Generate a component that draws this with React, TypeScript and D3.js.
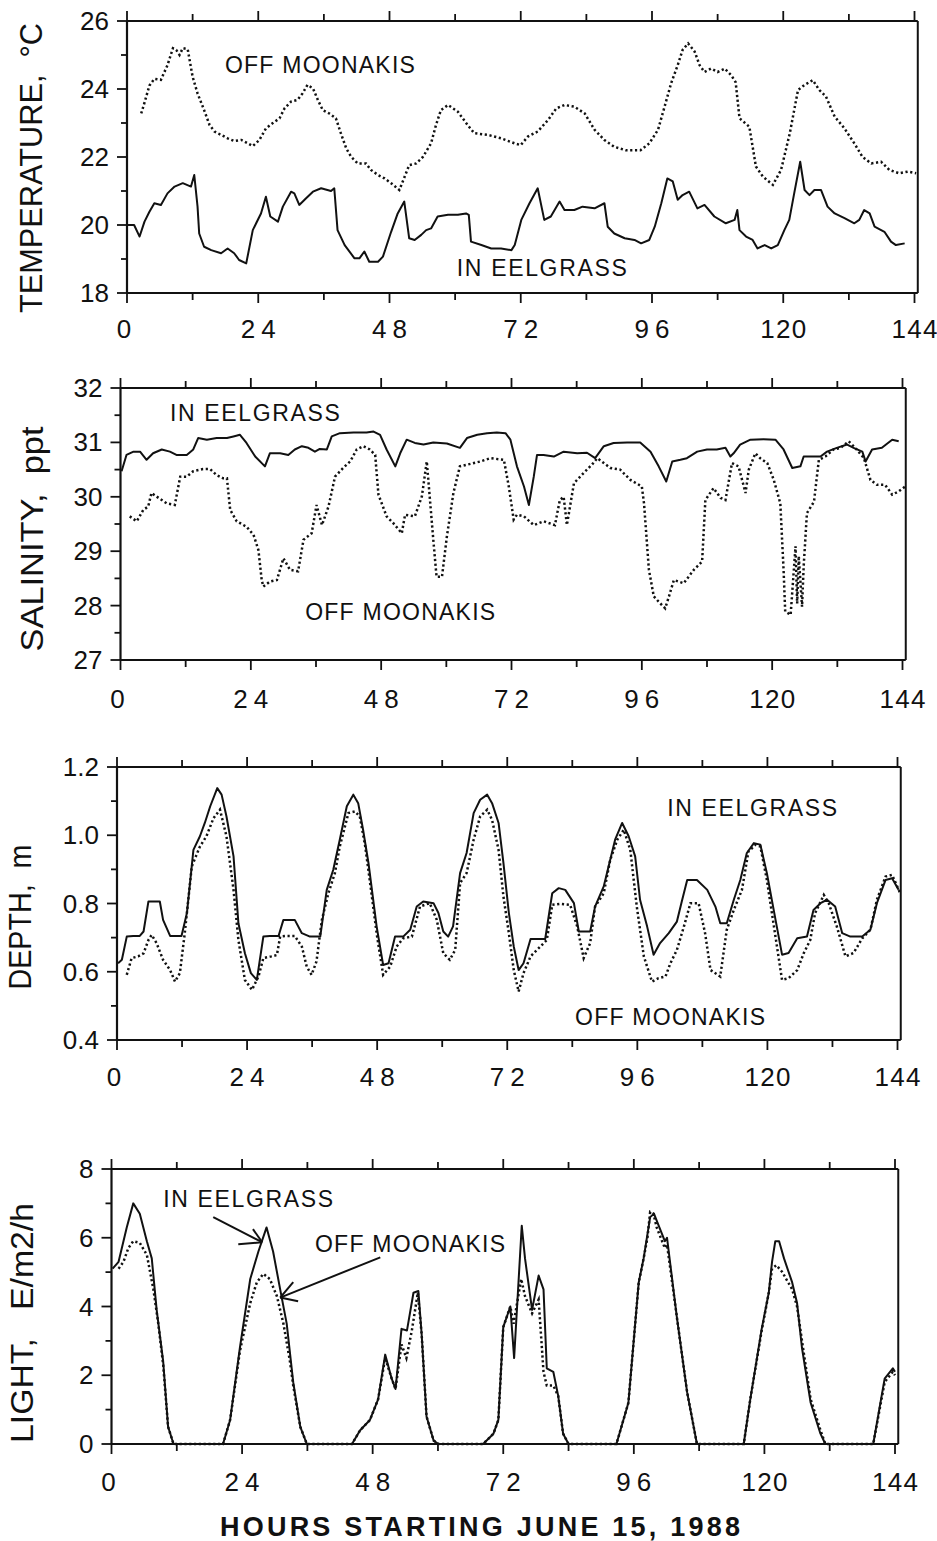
import React from "react";
import * as d3 from "d3";

// ---------- DATA (hours, value) ----------
const hourTicks = [0, 24, 48, 72, 96, 120, 144];

const tempEelgrass: [number, number][] = [
  [0, 20.0], [1.3, 20.0], [2.3, 19.66], [3.2, 20.1], [4.1, 20.39], [5, 20.64], [6.2, 20.59], [7.4, 20.93], [8.7, 21.13], [10.2, 21.23], [11.7, 21.13], [12.3, 21.47], [12.9, 20.54], [13.2, 19.75], [14.1, 19.36], [15.4, 19.26], [17.2, 19.17], [18.4, 19.31], [19.6, 19.17], [20.5, 18.97], [21.8, 18.87], [23, 19.85], [24.5, 20.34], [25.4, 20.83], [26.2, 20.25], [27.6, 20.1], [28.5, 20.54], [30, 20.98], [30.6, 20.93], [31.5, 20.59], [32.7, 20.78], [34, 20.98], [35.5, 21.08], [37.3, 21.0], [37.9, 21.08], [38.5, 19.85], [39.8, 19.41], [41.6, 19.02], [42.5, 19.02], [43.4, 19.22], [44.3, 18.92], [45.9, 18.92], [46.8, 19.07], [48.3, 19.8], [49.5, 20.34], [50.7, 20.69], [51.6, 19.61], [52.6, 19.56], [53.8, 19.71], [54.7, 19.85], [55.6, 19.9], [56.8, 20.25], [58.7, 20.3], [60.5, 20.3], [62, 20.34], [62.5, 20.3], [62.9, 19.51], [64.8, 19.41], [66.6, 19.31], [68.4, 19.31], [70.3, 19.26], [70.9, 19.41], [72.1, 20.15], [73.6, 20.64], [75.1, 21.08], [76.3, 20.15], [77.5, 20.25], [79.1, 20.69], [80, 20.44], [81.8, 20.44], [83.3, 20.54], [85.5, 20.49], [87.3, 20.64], [87.9, 19.95], [89.1, 19.75], [91, 19.61], [92.8, 19.56], [94, 19.46], [95.5, 19.56], [96.5, 19.95], [97.7, 20.64], [98.8, 21.37], [99.8, 21.28], [100.7, 20.74], [101.6, 20.88], [102.8, 20.98], [104.3, 20.49], [105.6, 20.59], [107.4, 20.25], [109.5, 20.05], [111.1, 20.15], [111.6, 20.44], [112, 19.85], [113.2, 19.66], [114.4, 19.56], [115.3, 19.31], [116.6, 19.41], [117.8, 19.31], [119, 19.41], [120.2, 19.85], [121.1, 20.15], [122, 20.93], [123.1, 21.86], [123.9, 21.03], [124.8, 20.88], [125.7, 21.03], [126.9, 21.03], [128.1, 20.54], [129.4, 20.34], [131.2, 20.2], [133, 20.05], [133.9, 20.15], [134.8, 20.44], [135.8, 20.34], [136.7, 19.95], [138.5, 19.8], [139.7, 19.51], [140.6, 19.41], [142.2, 19.46],
];

const tempMoonakis: [number, number][] = [
  [2.6, 23.28], [3.2, 23.6], [4.1, 24.1], [5, 24.3], [6.2, 24.27], [7.4, 24.7], [8.4, 25.2], [9, 25.15], [9.6, 25.0], [10.2, 25.2], [11.1, 25.17], [12, 24.36], [12.9, 23.87], [14.1, 23.38], [15.1, 22.94], [16, 22.75], [17.2, 22.65], [18.4, 22.55], [19.6, 22.47], [20.9, 22.5], [22.1, 22.4], [23, 22.32], [24.2, 22.5], [25.4, 22.84], [26.6, 22.99], [27.9, 23.14], [28.8, 23.43], [30, 23.63], [31.2, 23.68], [32.1, 23.87], [33, 24.12], [34, 24.02], [34.9, 23.68], [35.8, 23.38], [37, 23.28], [38.2, 23.14], [39.1, 22.7], [40.1, 22.25], [41, 22.0], [42.2, 21.81], [43.7, 21.81], [44.6, 21.62], [45.9, 21.47], [47.1, 21.37], [48.3, 21.23], [49.8, 21.03], [50.4, 21.27], [51.6, 21.76], [52.9, 21.81], [54.1, 22.0], [55.6, 22.4], [56.5, 22.94], [57.4, 23.38], [58.7, 23.53], [60.5, 23.33], [62.3, 22.94], [63.5, 22.7], [66, 22.65], [68.4, 22.55], [70.9, 22.4], [72, 22.35], [73.3, 22.6], [75.1, 22.75], [77, 23.09], [78.5, 23.43], [80, 23.53], [81.8, 23.48], [83.7, 23.28], [85.5, 22.8], [87.3, 22.5], [89.1, 22.3], [91.2, 22.2], [93.9, 22.2], [95.5, 22.4], [97.1, 22.8], [98.3, 23.48], [99.5, 24.17], [100.7, 24.7], [101.6, 25.15], [102.6, 25.34], [103.8, 25.1], [104.7, 24.7], [105.6, 24.5], [106.8, 24.6], [108, 24.5], [109.3, 24.6], [110.5, 24.4], [111.3, 24.2], [112, 23.14], [113.8, 22.89], [115, 21.72], [116.3, 21.42], [118.1, 21.18], [119.6, 21.62], [121.2, 22.7], [122.7, 23.97], [123.9, 24.12], [125.4, 24.26], [126.6, 23.97], [127.8, 23.78], [129.4, 23.19], [131.2, 22.84], [133, 22.4], [134.5, 22.0], [136.1, 21.81], [137.9, 21.86], [139.4, 21.62], [141.2, 21.52], [142.8, 21.57], [144.3, 21.52],
];

const salEelgrass: [number, number][] = [
  [0.2, 30.47], [1.1, 30.77], [2.4, 30.83], [3.6, 30.83], [4.8, 30.68], [6, 30.8], [7.6, 30.87], [9.1, 30.83], [10.3, 30.77], [12.2, 30.77], [13.4, 30.87], [14.3, 31.08], [15.9, 31.05], [17.7, 31.08], [19.6, 31.08], [20.8, 31.11], [22, 31.14], [23.2, 30.99], [24.8, 30.74], [26.6, 30.56], [27.5, 30.8], [29.4, 30.8], [30.9, 30.77], [32.1, 30.87], [33.4, 30.93], [34.6, 30.9], [35.8, 30.83], [36.7, 30.88], [38, 30.87], [38.9, 31.11], [40.4, 31.17], [42.9, 31.18], [45.3, 31.18], [46.6, 31.2], [47.8, 31.14], [49, 30.87], [50.6, 30.56], [51.5, 30.8], [52.7, 31.05], [54.2, 30.99], [55.8, 30.96], [57.6, 31.0], [60.1, 30.98], [62.5, 30.9], [63.8, 31.08], [65.7, 31.14], [67.5, 31.17], [69.3, 31.18], [70.9, 31.17], [71.8, 31.05], [73, 30.56], [74.3, 30.19], [75.2, 29.85], [76.1, 30.37], [76.7, 30.77], [77.9, 30.77], [79.8, 30.74], [81.6, 30.83], [84.1, 30.8], [85.9, 30.81], [87.4, 30.71], [89, 30.93], [90.8, 30.99], [93.3, 31.0], [95.7, 31.0], [97.6, 30.83], [99.1, 30.56], [100.5, 30.28], [101.6, 30.65], [103.1, 30.68], [104.3, 30.71], [106.2, 30.83], [108, 30.87], [109.8, 30.87], [111.4, 30.9], [112.3, 30.74], [112.9, 30.8], [114.1, 30.96], [116, 31.05], [118.4, 31.06], [120.6, 31.05], [122.1, 30.87], [123.7, 30.53], [125.2, 30.56], [125.8, 30.74], [127.7, 30.74], [128.9, 30.74], [130.1, 30.83], [131.9, 30.9], [133.8, 30.96], [135, 30.9], [136.6, 30.83], [137.2, 30.65], [138.4, 30.87], [140.2, 30.9], [142.1, 31.05], [143.3, 31.02],
];

const salMoonakis: [number, number][] = [
  [1.7, 29.64], [3, 29.55], [4.2, 29.76], [5.1, 29.82], [5.7, 30.07], [7, 29.98], [8.5, 29.88], [10, 29.85], [11, 30.37], [12.2, 30.37], [13.4, 30.47], [15.2, 30.51], [16.5, 30.51], [17.7, 30.4], [18.9, 30.34], [19.6, 30.34], [20.2, 29.76], [21.4, 29.55], [23.2, 29.45], [24.5, 29.3], [25.4, 29.02], [26, 28.47], [26.3, 28.35], [27.5, 28.44], [28.8, 28.47], [30, 28.87], [31.2, 28.66], [32.7, 28.63], [33.7, 29.21], [35.2, 29.33], [36.1, 29.85], [37.1, 29.48], [38.3, 29.82], [39.5, 30.37], [41, 30.53], [42.3, 30.65], [43.5, 30.87], [44.7, 30.93], [45.9, 30.87], [46.9, 30.77], [47.5, 30.04], [49, 29.64], [50.2, 29.52], [51.8, 29.33], [52.4, 29.67], [54.2, 29.64], [55.5, 30.01], [56.4, 30.65], [57.6, 29.21], [58.2, 28.53], [59.2, 28.53], [60.1, 29.27], [61.3, 30.07], [62.5, 30.56], [63.8, 30.59], [66.3, 30.65], [68.1, 30.71], [70.6, 30.68], [71.5, 30.19], [72.4, 29.58], [73, 29.67], [74.3, 29.64], [76.1, 29.48], [77.9, 29.55], [80, 29.48], [80.9, 29.94], [81.6, 30.0], [82.2, 29.48], [83.5, 30.25], [85.3, 30.44], [86.8, 30.59], [87.8, 30.71], [90.2, 30.53], [92, 30.5], [93.9, 30.31], [96, 30.19], [96.4, 29.88], [97.3, 28.66], [98.2, 28.17], [99.4, 28.04], [100.3, 27.95], [101, 28.17], [101.9, 28.47], [103.7, 28.41], [105.6, 28.66], [107.1, 28.81], [107.7, 29.94], [109.2, 30.16], [110.5, 29.98], [111.4, 29.94], [112.6, 30.62], [113.8, 30.56], [115.1, 30.07], [115.7, 30.5], [116.9, 30.8], [117.8, 30.71], [119.1, 30.62], [120.3, 30.31], [121.5, 29.88], [122.1, 28.66], [122.4, 27.89], [123.4, 27.83], [124.3, 29.09], [124.6, 28.04], [124.9, 28.91], [125.5, 27.98], [125.8, 28.72], [126.4, 29.7], [127.7, 29.91], [128.6, 30.68], [129.8, 30.74], [131.3, 30.87], [132.6, 30.9], [134.1, 31.02], [135.3, 30.9], [136.9, 30.71], [138.1, 30.31], [139.3, 30.22], [140.8, 30.22], [142.1, 30.04], [143.3, 30.1], [144.5, 30.19],
];

const depthEelgrass: [number, number][] = [
  [0.2, 0.625], [0.9, 0.635], [1.8, 0.703], [3, 0.705], [4.2, 0.705], [4.9, 0.718], [5.8, 0.806], [6.7, 0.806], [7.9, 0.806], [8.5, 0.752], [9.8, 0.705], [11, 0.705], [11.9, 0.705], [12.9, 0.772], [14.1, 0.957], [15.3, 0.997], [16.2, 1.036], [17.2, 1.085], [18.5, 1.138], [19.3, 1.119], [20.2, 1.055], [21.5, 0.938], [22.4, 0.742], [23.6, 0.654], [24.7, 0.596], [25.8, 0.576], [27, 0.703], [28.2, 0.705], [29.8, 0.705], [30.7, 0.752], [31.6, 0.752], [32.8, 0.752], [34.1, 0.713], [35.6, 0.703], [37.5, 0.703], [38.7, 0.84], [39.9, 0.899], [41.1, 0.987], [42.4, 1.085], [43.6, 1.119], [44.5, 1.094], [45.4, 1.016], [46.4, 0.918], [47.9, 0.733], [49.1, 0.62], [50.1, 0.625], [51.3, 0.703], [52.8, 0.703], [54.1, 0.723], [55.3, 0.791], [56.5, 0.806], [58.4, 0.801], [59.3, 0.772], [60.2, 0.718], [61.1, 0.703], [62, 0.733], [63.3, 0.889], [64.5, 0.948], [65.8, 1.065], [67, 1.104], [68.3, 1.119], [69.2, 1.094], [70.4, 1.036], [71.3, 0.918], [72.3, 0.772], [73.2, 0.674], [74.1, 0.605], [75, 0.625], [76.3, 0.696], [77.8, 0.696], [79, 0.696], [80.3, 0.83], [81.5, 0.845], [82.7, 0.84], [84.3, 0.801], [85.2, 0.718], [87.3, 0.718], [88.2, 0.791], [89.8, 0.85], [91, 0.928], [91.9, 0.987], [93.2, 1.036], [94.4, 0.997], [95.6, 0.938], [96.5, 0.811], [97.8, 0.733], [99, 0.65], [100.2, 0.684], [101.8, 0.713], [103.3, 0.747], [104.2, 0.806], [105.2, 0.869], [107, 0.869], [108.9, 0.84], [110.4, 0.791], [111.3, 0.742], [112.5, 0.742], [113.8, 0.811], [115, 0.869], [116.2, 0.948], [117.5, 0.977], [118.7, 0.972], [119.9, 0.889], [121.5, 0.752], [122.7, 0.65], [123.9, 0.655], [125.5, 0.698], [127.3, 0.703], [128.5, 0.781], [129.8, 0.801], [131, 0.811], [132.5, 0.791], [133.8, 0.713], [135.3, 0.703], [137.5, 0.703], [139, 0.723], [140.2, 0.801], [141.8, 0.869], [143, 0.874], [144.2, 0.84],
];

const depthMoonakis: [number, number][] = [
  [1.8, 0.591], [2.7, 0.64], [3.9, 0.645], [4.9, 0.654], [5.8, 0.693], [6.4, 0.708], [7.3, 0.684], [8.5, 0.635], [9.8, 0.605], [10.7, 0.571], [11.6, 0.596], [12.5, 0.713], [13.8, 0.909], [15.3, 0.967], [16.5, 0.997], [17.8, 1.05], [19, 1.075], [20.2, 0.997], [21.5, 0.84], [22.4, 0.693], [23.6, 0.576], [24.9, 0.547], [26.1, 0.586], [27, 0.64], [28.5, 0.645], [29.5, 0.649], [30.1, 0.703], [31.3, 0.705], [32.8, 0.705], [34.1, 0.674], [35, 0.615], [35.9, 0.591], [36.8, 0.63], [37.8, 0.752], [39, 0.83], [40.2, 0.889], [41.1, 0.967], [42.7, 1.065], [43.9, 1.07], [44.8, 1.055], [45.8, 0.967], [46.7, 0.86], [47.9, 0.713], [49.1, 0.591], [50.4, 0.615], [51.6, 0.674], [52.8, 0.698], [54.4, 0.703], [55.9, 0.791], [57.7, 0.801], [59, 0.752], [60.2, 0.654], [61.4, 0.635], [62.4, 0.664], [63.3, 0.86], [64.5, 0.889], [65.8, 0.987], [67, 1.055], [68.3, 1.075], [69.2, 1.045], [70.4, 0.957], [71.3, 0.82], [72.3, 0.713], [73.2, 0.605], [74.1, 0.542], [75, 0.596], [76.3, 0.645], [77.8, 0.669], [79.3, 0.693], [80.3, 0.796], [81.8, 0.799], [83.6, 0.796], [84.9, 0.733], [86.1, 0.64], [87.3, 0.684], [88.2, 0.791], [89.8, 0.83], [91, 0.928], [92.3, 0.987], [93.5, 1.016], [94.7, 0.957], [95.9, 0.791], [97.2, 0.645], [98.7, 0.571], [99.9, 0.581], [101.2, 0.586], [102.1, 0.625], [103.3, 0.664], [104.6, 0.733], [105.8, 0.801], [107.3, 0.801], [108.5, 0.713], [109.5, 0.605], [111.3, 0.586], [112.5, 0.723], [113.8, 0.781], [115.3, 0.84], [116.5, 0.952], [117.8, 0.972], [118.7, 0.967], [119.9, 0.869], [121.2, 0.733], [122.7, 0.576], [123.9, 0.581], [125.5, 0.605], [126.7, 0.654], [127.9, 0.693], [128.8, 0.772], [130.4, 0.825], [131.3, 0.801], [132.8, 0.733], [134.4, 0.645], [135.9, 0.655], [137.5, 0.698], [139, 0.723], [140.2, 0.811], [141.8, 0.879], [143, 0.884], [144.5, 0.83],
];

const lightEelgrass: [number, number][] = [
  [0.2, 5.1], [1.3, 5.3], [2.8, 6.3], [4, 7.0], [5.2, 6.7], [6.5, 5.9], [7.4, 5.4], [8.3, 3.9], [9.5, 2.4], [10.4, 0.5], [11.4, 0], [20.5, 0], [21.8, 0.7], [23.6, 2.8], [25.5, 4.8], [27, 5.6], [28.5, 6.3], [29.7, 5.6], [31, 4.5], [32.2, 3.5], [33.4, 1.8], [34.7, 0.5], [35.9, 0], [44.2, 0], [45.7, 0.4], [47.5, 0.7], [49, 1.3], [50.3, 2.6], [51.5, 1.9], [52.2, 1.6], [53.3, 3.35], [54.3, 3.3], [55.5, 4.4], [56.4, 4.45], [57, 3.2], [57.9, 0.8], [59.2, 0.1], [60.1, 0], [68.3, 0], [70.2, 0.3], [71.1, 0.7], [72, 3.4], [73.3, 4.0], [74, 2.5], [75.4, 6.35], [76, 5.4], [77.3, 3.9], [78.5, 4.9], [79.4, 4.5], [80, 2.2], [81.2, 2.1], [82.1, 1.4], [83, 0.3], [84, 0], [92.8, 0], [95, 1.2], [96.9, 4.7], [97.8, 5.4], [99, 6.6], [99.7, 6.7], [100.2, 6.5], [101.7, 5.9], [102.1, 6.0], [103.9, 3.7], [105.8, 1.5], [107.6, 0], [116.2, 0], [117.4, 1.3], [119.5, 3.35], [120.8, 4.4], [121.4, 5.3], [122, 5.9], [122.7, 5.9], [123.6, 5.4], [125.1, 4.7], [126, 4.1], [126.9, 2.8], [128.5, 1.2], [130.3, 0.3], [131.2, 0], [140, 0], [142.1, 1.9], [143.6, 2.2], [144, 2.1],
];

const lightMoonakis: [number, number][] = [
  [1.3, 5.1], [2.2, 5.3], [3.1, 5.7], [4, 5.9], [5.2, 5.85], [6.5, 5.5], [7.7, 4.5], [8.6, 3.5], [9.5, 2.3], [10.4, 0.5], [11.4, 0], [20.5, 0], [21.8, 0.7], [23.6, 2.7], [24.2, 3.15], [25.5, 4.1], [26.7, 4.7], [27.9, 4.95], [29.1, 4.8], [30.4, 4.3], [31.6, 3.5], [32.8, 2.4], [33.4, 1.7], [34.7, 0.5], [35.9, 0], [44.2, 0], [45.7, 0.4], [47.5, 0.7], [49, 1.3], [50.3, 2.5], [51.5, 1.9], [52.2, 1.6], [53.3, 2.9], [54.2, 2.5], [55.2, 3.3], [56.3, 4.4], [57, 3.2], [57.9, 0.8], [59.2, 0.1], [60.1, 0], [68.3, 0], [70.2, 0.3], [71.1, 0.7], [72, 3.4], [73.3, 4.0], [73.9, 3.5], [75.3, 4.8], [76, 4.3], [77.3, 3.8], [78.5, 4.2], [79.4, 2.1], [80, 1.7], [81.2, 1.7], [82.1, 1.4], [83, 0.3], [84, 0], [92.8, 0], [95, 1.2], [96.9, 4.7], [97.8, 5.4], [98.5, 6.0], [99, 6.75], [99.6, 6.7], [100.2, 6.3], [101.7, 5.7], [102.1, 5.8], [103.9, 3.7], [105.8, 1.5], [107.6, 0], [116.2, 0], [117.4, 1.3], [119.5, 3.3], [120.8, 4.4], [121.4, 5.1], [122.2, 5.2], [123.3, 5.0], [124, 4.8], [125.1, 4.5], [126, 4.0], [127, 2.9], [128.5, 1.3], [130.3, 0.4], [131.2, 0], [140, 0], [142.1, 1.8], [143.6, 2.1], [144, 2.0],
];

const labelIn = "IN EELGRASS";
const labelOff = "OFF MOONAKIS";

// arrows in light panel: [tail, tip, barbA, barbB] in data units
const arrowIn: [number, number][] = [[18.7, 6.6], [27.7, 5.87], [23.3, 5.81], [26.0, 6.25]];
const arrowOff: [number, number][] = [[49.4, 5.43], [31.0, 4.26], [34.3, 4.15], [33.4, 4.71]];

// ---------- LAYOUT ----------
const FONT = "'Liberation Sans', Arial, Helvetica, sans-serif";
const W = 937;
const H = 1541;
const NB = "\u00A0";

type Panel = {
  top: number; bottom: number; x0: number; x144: number;
  yMin: number; yMax: number; major: number; minor: number; decimals: number;
  title: string; titleX: number; titleY: number; titleLen: number; xLabelDy: number;
  solid: [number, number][]; dotted: [number, number][];
  inPos: [number, number]; offPos: [number, number];
  arrows?: [number, number][][];
};

const panels: Panel[] = [
  {
    top: 21, bottom: 293, x0: 127, x144: 914.5, yMin: 18, yMax: 26, major: 2, minor: 1, decimals: 0,
    title: "TEMPERATURE," + NB + NB + "°C", titleX: 31, titleY: 168, titleLen: 290, xLabelDy: 36,
    solid: tempEelgrass, dotted: tempMoonakis, inPos: [60.3, 18.74], offPos: [17.9, 24.71],
  },
  {
    top: 388, bottom: 660, x0: 120.5, x144: 902.5, yMin: 27, yMax: 32, major: 1, minor: 0.5, decimals: 0,
    title: "SALINITY," + NB + NB + "ppt", titleX: 32, titleY: 539, titleLen: 225, xLabelDy: 39,
    solid: salEelgrass, dotted: salMoonakis, inPos: [9.1, 31.54], offPos: [34.0, 27.88],
  },
  {
    top: 767, bottom: 1040, x0: 117, x144: 897.5, yMin: 0.4, yMax: 1.2, major: 0.2, minor: 0.1, decimals: 1,
    title: "DEPTH," + NB + " m", titleX: 20, titleY: 917, titleLen: 145, xLabelDy: 37,
    solid: depthEelgrass, dotted: depthMoonakis, inPos: [101.5, 1.08], offPos: [84.5, 0.467],
  },
  {
    top: 1169, bottom: 1444, x0: 111.5, x144: 895, yMin: 0, yMax: 8, major: 2, minor: 1, decimals: 0,
    title: "LIGHT," + NB + NB + NB + "E/m2/h", titleX: 22, titleY: 1323, titleLen: 240, xLabelDy: 38,
    solid: lightEelgrass, dotted: lightMoonakis, inPos: [9.5, 7.12], offPos: [37.4, 5.81],
    arrows: [arrowIn, arrowOff],
  },
];

function PanelView({ p }: { p: Panel }) {
  const x = d3.scaleLinear().domain([0, 144]).range([p.x0, p.x144]);
  const y = d3.scaleLinear().domain([p.yMin, p.yMax]).range([p.bottom, p.top]);
  const line = d3.line<[number, number]>().x((d) => x(d[0])).y((d) => y(d[1]));
  const left = x(0);
  const right = x(144.6);
  const top = y(p.yMax);
  const bottom = y(p.yMin);
  const eps = 1e-6;
  const nMinor = Math.round((p.yMax - p.yMin) / p.minor);
  const yTickVals = d3.range(nMinor + 1).map((i) => p.yMin + i * p.minor);
  const xTickVals = d3.range(0, 145, 12);
  const isMajorY = (v: number) => {
    const r = (v - p.yMin) / p.major;
    return Math.abs(r - Math.round(r)) < eps;
  };

  return (
    <g>
      <line x1={left} x2={left} y1={top} y2={bottom} stroke="#111" strokeWidth={2.2} />
      <line x1={left} x2={right} y1={top} y2={top} stroke="#111" strokeWidth={2} />
      <line x1={left} x2={right} y1={bottom} y2={bottom} stroke="#111" strokeWidth={2.2} />
      <line x1={right} x2={right} y1={top} y2={bottom} stroke="#111" strokeWidth={2} />
      {xTickVals.map((h) => {
        const len = h % 24 === 0 ? 10 : 7;
        return (
          <g key={"xt" + h}>
            <line x1={x(h)} x2={x(h)} y1={top} y2={top - len} stroke="#111" strokeWidth={1.8} />
            <line x1={x(h)} x2={x(h)} y1={bottom} y2={bottom + len} stroke="#111" strokeWidth={1.8} />
          </g>
        );
      })}
      {hourTicks.map((h) => {
        const s = String(h);
        const extra = s.length > 1 ? { textLength: s.length === 2 ? 35 : 46 } : {};
        return (
          <text
            key={"xl" + h}
            x={x(h) - (h === 0 ? 3 : 0)}
            y={bottom + p.xLabelDy}
            textAnchor="middle"
            dominantBaseline="central"
            fontFamily={FONT}
            fontSize={26}
            fill="#111"
            {...extra}
          >
            {s}
          </text>
        );
      })}
      {yTickVals.map((v, i) => {
        const maj = isMajorY(v);
        return (
          <g key={"yt" + i}>
            <line x1={left - (maj ? 10 : 6)} x2={left} y1={y(v)} y2={y(v)} stroke="#111" strokeWidth={1.8} />
            {maj && (
              <text
                x={left - 18}
                y={y(v)}
                textAnchor="end"
                dominantBaseline="central"
                fontFamily={FONT}
                fontSize={26}
                fill="#111"
              >
                {v.toFixed(p.decimals)}
              </text>
            )}
          </g>
        );
      })}
      <text
        transform={`translate(${p.titleX},${p.titleY}) rotate(-90)`}
        textAnchor="middle"
        dominantBaseline="central"
        fontFamily={FONT}
        fontSize={32}
        fill="#111"
        textLength={p.titleLen}
        lengthAdjust="spacingAndGlyphs"
      >
        {p.title}
      </text>
      <path d={line(p.solid) || ""} fill="none" stroke="#111" strokeWidth={2} strokeLinejoin="round" />
      <path d={line(p.dotted) || ""} fill="none" stroke="#111" strokeWidth={2.5} strokeDasharray="2.2 2.6" />
      <text x={x(p.inPos[0])} y={y(p.inPos[1])} dominantBaseline="central" fontFamily={FONT} fontSize={23} fill="#111" textLength={170}>
        {labelIn}
      </text>
      <text x={x(p.offPos[0])} y={y(p.offPos[1])} dominantBaseline="central" fontFamily={FONT} fontSize={23} fill="#111" textLength={190}>
        {labelOff}
      </text>
      {p.arrows &&
        p.arrows.map((a, i) => (
          <g key={"ar" + i} stroke="#111" strokeWidth={2}>
            <line x1={x(a[0][0])} y1={y(a[0][1])} x2={x(a[1][0])} y2={y(a[1][1])} />
            <line x1={x(a[2][0])} y1={y(a[2][1])} x2={x(a[1][0])} y2={y(a[1][1])} />
            <line x1={x(a[3][0])} y1={y(a[3][1])} x2={x(a[1][0])} y2={y(a[1][1])} />
          </g>
        ))}
    </g>
  );
}

export default function App() {
  return (
    <svg width={W} height={H} viewBox={`0 0 ${W} ${H}`} style={{ position: "absolute", left: 0, top: 0, background: "#fff" }}>
      <rect x={0} y={0} width={W} height={H} fill="#fff" />
      {panels.map((p, i) => (
        <PanelView key={i} p={p} />
      ))}
      <text
        x={480}
        y={1527}
        textAnchor="middle"
        dominantBaseline="central"
        fontFamily={FONT}
        fontSize={27}
        fontWeight="bold"
        fill="#111"
        textLength={520}
      >
        HOURS STARTING JUNE 15, 1988
      </text>
    </svg>
  );
}
